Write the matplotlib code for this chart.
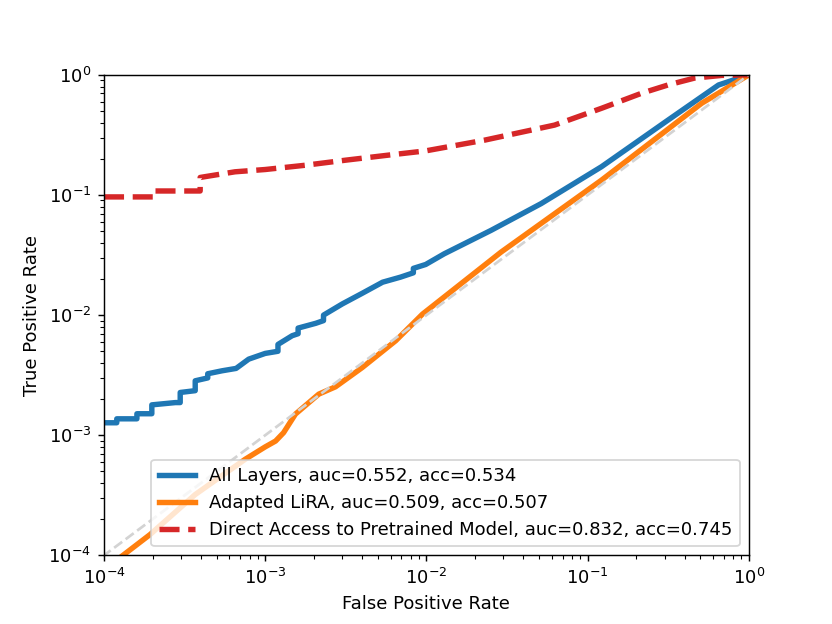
import matplotlib
matplotlib.use("Agg")
import matplotlib.pyplot as plt
import numpy as np

# ROC curves (log-log)
fpr_all = [1e-4, 1.2e-4, 1.2e-4, 1.6e-4, 1.6e-4, 1.98e-4, 1.98e-4, 2.77e-4, 2.97e-4, 2.97e-4,
           3.68e-4, 3.68e-4, 4.4e-4, 4.4e-4, 5.4e-4, 6.6e-4, 7.9e-4, 1e-3, 1.2e-3, 1.2e-3,
           1.47e-3, 1.6e-3, 1.6e-3, 2.06e-3, 2.3e-3, 2.3e-3, 3.01e-3, 4.0e-3, 5.35e-3, 6.9e-3,
           8.3e-3, 8.3e-3, 9.9e-3, 0.0129, 0.0252, 0.0515, 0.122, 0.316, 0.649, 1.0]
tpr_all = [1.27e-3, 1.27e-3, 1.37e-3, 1.37e-3, 1.51e-3, 1.51e-3, 1.79e-3, 1.87e-3, 1.87e-3, 2.27e-3,
           2.35e-3, 2.84e-3, 3.0e-3, 3.25e-3, 3.44e-3, 3.6e-3, 4.3e-3, 4.8e-3, 5.0e-3, 5.7e-3,
           6.74e-3, 7.0e-3, 7.8e-3, 8.55e-3, 9.0e-3, 1.0e-2, 0.0124, 0.0152, 0.0188, 0.0207,
           0.0225, 0.0245, 0.0264, 0.0324, 0.0508, 0.0848, 0.172, 0.421, 0.824, 1.0]

fpr_lira = [1.31e-4, 1.93e-4, 3.68e-4, 7.5e-4, 1.0e-3, 1.16e-3, 1.3e-3, 1.54e-3, 2.15e-3, 2.73e-3,
            4.0e-3, 6.45e-3, 9.46e-3, 0.029, 0.122, 0.51, 1.0]
tpr_lira = [1e-4, 1.49e-4, 3.21e-4, 6.3e-4, 8.0e-4, 8.95e-4, 1.05e-3, 1.5e-3, 2.2e-3, 2.53e-3,
            3.66e-3, 6.12e-3, 0.0102, 0.0334, 0.133, 0.58, 1.0]

fpr_direct = [1e-4, 2.03e-4, 2.03e-4, 3.95e-4, 3.95e-4, 6.5e-4, 1e-3, 1.78e-3, 3.16e-3, 5.85e-3,
              9.9e-3, 0.0229, 0.0624, 0.122, 0.216, 0.316, 0.46, 0.68, 1.0]
tpr_direct = [0.0964, 0.0964, 0.108, 0.108, 0.14, 0.156, 0.163, 0.177, 0.195, 0.215,
              0.233, 0.286, 0.382, 0.527, 0.703, 0.825, 0.94, 0.99, 1.0]

labels = ['All Layers, auc=0.552, acc=0.534',
          'Adapted LiRA, auc=0.509, acc=0.507',
          'Direct Access to Pretrained Model, auc=0.832, acc=0.745']

fig, ax = plt.subplots(figsize=(6.4, 4.8), dpi=130)

ax.plot(fpr_all, tpr_all, color='tab:blue', lw=3, label=labels[0])
ax.plot(fpr_lira, tpr_lira, color='tab:orange', lw=3, label=labels[1])
ax.plot(fpr_direct, tpr_direct, color='tab:red', lw=3, ls='--', label=labels[2])
ax.plot([1e-5, 1], [1e-5, 1], ls='--', color='lightgray', lw=1.5)

ax.set_xscale('log')
ax.set_yscale('log')
ax.set_xlim(1e-4, 1)
ax.set_ylim(1e-4, 1)
ax.set_xlabel('False Positive Rate')
ax.set_ylabel('True Positive Rate')
ax.legend(loc='lower right')

plt.savefig('out.png')
